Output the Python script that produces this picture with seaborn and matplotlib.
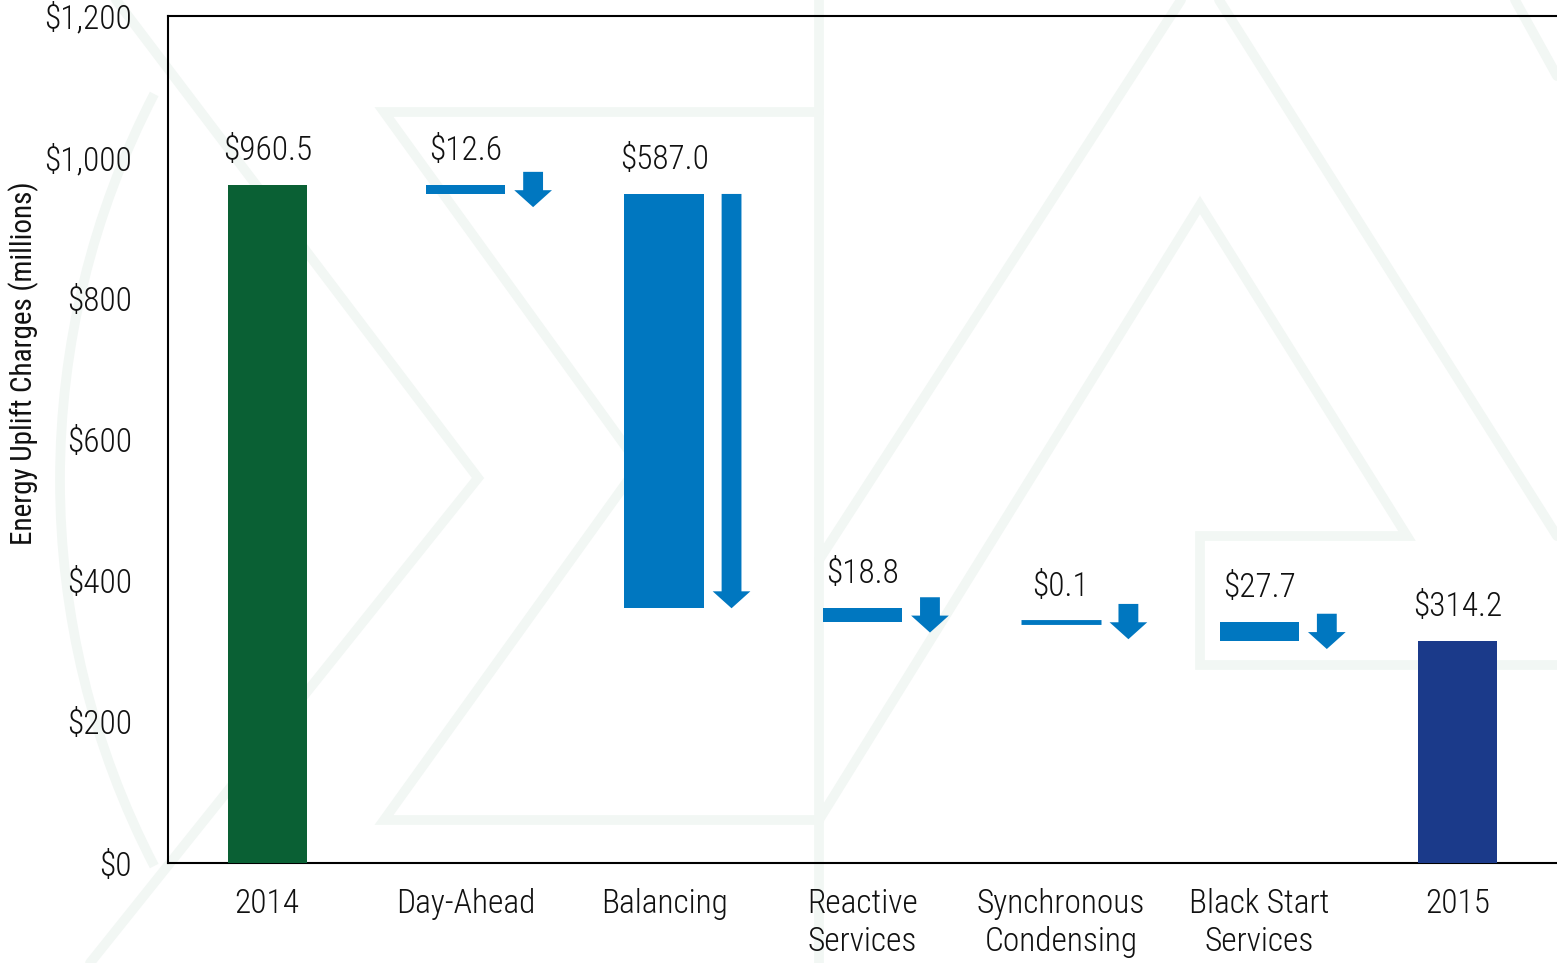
import numpy as np
import pandas as pd
import matplotlib
matplotlib.use("Agg")
import matplotlib.pyplot as plt
from matplotlib.lines import Line2D
from matplotlib.patches import Arc
from matplotlib.ticker import FixedLocator, FuncFormatter
import seaborn as sns

# chart data
categories = ["2014", "Day-Ahead", "Balancing", "Reactive\nServices",
              "Synchronous\nCondensing", "Black Start\nServices", "2015"]
changes = [960.5, -12.6, -587.0, -18.8, -0.1, -27.7, 314.2]
kinds = ["total", "delta", "delta", "delta", "delta", "delta", "total"]
value_labels = ["$960.5", "$12.6", "$587.0", "$18.8", "$0.1", "$27.7", "$314.2"]

GREEN = "#0a6034"
BLUE = "#0077c0"
NAVY = "#1b3a8a"
FAINT = "#f2f7f4"
TEXT = "#111111"

# waterfall bottoms / heights
bottoms, heights = [], []
running = 0.0
for v, k in zip(changes, kinds):
    if k == "total":
        bottoms.append(0.0)
        heights.append(v)
        running = v
    else:
        new = running + v
        bottoms.append(new)
        heights.append(-v)
        running = new

colors = [GREEN] + [BLUE] * 5 + [NAVY]
df = pd.DataFrame({"category": categories, "height": heights})

sns.set_style("white")
plt.rcParams["font.family"] = ["Roboto Condensed", "DejaVu Sans"]
plt.rcParams["font.weight"] = "light"

fig = plt.figure(figsize=(15.57, 9.63), dpi=100)

# faint background watermark (decorative logo outline)
W, H = 1557.0, 963.0
def fl(pts):
    xs = [p[0] / W for p in pts]
    ys = [1 - p[1] / H for p in pts]
    fig.add_artist(Line2D(xs, ys, color=FAINT, lw=7, zorder=0,
                          solid_joinstyle="miter"))
fl([(819, 0), (819, 963)])
fl([(819, 112), (384, 112), (639, 465), (384, 820), (819, 820)])
fl([(116, 0), (478, 478), (90, 963)])
fl([(1181, 0), (819, 560)])
fl([(1219, 0), (1557, 536)])
fl([(819, 820), (1200, 205), (1407, 536), (1200, 536), (1200, 665), (1557, 665)])
fl([(1515, 0), (1557, 76)])
fig.add_artist(Arc((898 / W, 1 - 480 / H), 2 * 838 / W, 2 * 838 / H,
                   theta1=140, theta2=220, color=FAINT, lw=7, zorder=0,
                   transform=fig.transFigure))

ax = fig.add_axes([168 / W, 100 / H, 1 - 168 / W, 847 / H])
ax.patch.set_alpha(0)

sns.barplot(data=df, x="category", y="height", hue="category",
            palette=colors, width=0.4, legend=False, ax=ax,
            saturation=1, zorder=3)

for patch, b in zip(ax.patches[:len(categories)], bottoms):
    patch.set_y(b)
    patch.set_linewidth(0)
# the tiny synchronous bar gets a visible outline
ax.patches[4].set_edgecolor(BLUE)
ax.patches[4].set_linewidth(3.5)

# arrows and value labels
for i, (b, h, k, lab) in enumerate(zip(bottoms, heights, kinds, value_labels)):
    top = b + h
    ax.annotate(lab, xy=(i, top), xytext=(0, 13), textcoords="offset points",
                ha="center", va="bottom", fontsize=24, color=TEXT)
    if k == "delta":
        a_top, a_bot = top, b
        if h < 50:
            mid = (top + b) / 2
            a_top, a_bot = mid + 25, mid - 25
        ax.arrow(i + 0.34, a_top, 0, -(a_top - a_bot), width=0.1,
                 head_width=0.19, head_length=24, length_includes_head=True,
                 color=BLUE, lw=0, zorder=3)

ax.set_xlim(-0.5, 6.5)
ax.set_ylim(0, 1200)
ax.set_yticks(np.arange(0, 1201, 200))
ax.yaxis.set_major_formatter(FuncFormatter(lambda v, p: f"${v:,.0f}"))
ax.set_xticks(range(len(categories)))
ax.set_xticklabels(categories, linespacing=1.25)
ax.xaxis.set_minor_locator(FixedLocator(np.arange(-0.5, 6.0, 1.0)))

ax.tick_params(axis="x", which="major", length=0, pad=18, labelsize=24,
               colors=TEXT)
ax.tick_params(axis="x", which="minor", length=6, width=1.3, direction="out",
               color="black")
ax.tick_params(axis="y", which="major", length=6, width=1.3, direction="out",
               pad=20, labelsize=24, colors=TEXT)
ax.tick_params(axis="y", color="black")

for s in ["left", "bottom", "top"]:
    ax.spines[s].set_color("black")
    ax.spines[s].set_linewidth(1.5)
ax.spines["right"].set_visible(False)

ax.set_xlabel("")
ax.set_ylabel("Energy Uplift Charges (millions)", fontsize=21, color=TEXT)
ax.yaxis.set_label_coords(-0.093, 0.59)

fig.savefig("out.png", dpi=100)
